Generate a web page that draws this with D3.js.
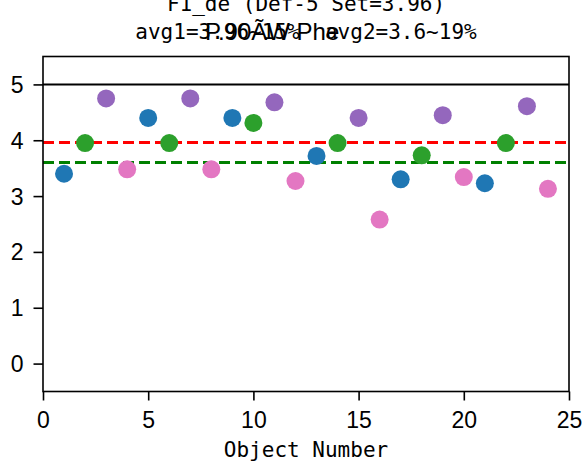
<!DOCTYPE html>
<html><head><meta charset="utf-8">
<script src="https://cdn.jsdelivr.net/npm/d3@7"></script>
<style>body{margin:0;background:#fff}</style>
</head><body>
<svg id="c" width="586" height="465"></svg>
<script>
const blueX = [1,5,9,13,17,21];
const blueY = [3.40,4.40,4.40,3.72,3.30,3.23];
const greenX = [2,6,10,14,18,22];
const greenY = [3.95,3.95,4.31,3.95,3.73,3.95];
const purpleX = [3,7,11,15,19,23];
const purpleY = [4.75,4.75,4.68,4.40,4.45,4.61];
const pinkX = [4,8,12,16,20,24];
const pinkY = [3.48,3.48,3.27,2.58,3.34,3.13];
const refLine = 5;
const avg1 = 3.96;
const avg2 = 3.6;
const xTicks = [0,5,10,15,20,25];
const yTicks = [0,1,2,3,4,5];
const title1 = "F1_de (Def-5 Set=3.96)";
const title2 = "avg1=3.96~15%  avg2=3.6~19%";
const overlay = "P.90ÃW Phe";
const xLabel = "Object Number";

const svg = d3.select("#c");
const L=43,R=569,T=56.5,B=391.5;
const x = d3.scaleLinear().domain([0,25]).range([L,R]);
const y = d3.scaleLinear().domain([-0.5,5.5]).range([B,T]);
const mono = "'DejaVu Sans Mono', monospace";
const sans = "'Liberation Sans', Arial, sans-serif";

const g = svg.append("g");
g.append("line").attr("x1",x(0)).attr("x2",x(25)).attr("y1",y(refLine)).attr("y2",y(refLine))
  .attr("stroke","#000").attr("stroke-width",2);
g.append("line").attr("x1",x(0)).attr("x2",x(25)).attr("y1",y(avg1)).attr("y2",y(avg1))
  .attr("stroke","#ff0000").attr("stroke-width",3).attr("stroke-dasharray","11,5");
g.append("line").attr("x1",x(0)).attr("x2",x(25)).attr("y1",y(avg2)).attr("y2",y(avg2))
  .attr("stroke","#008000").attr("stroke-width",3).attr("stroke-dasharray","11,5");

const series = [[blueX,blueY,"#1f77b4"],[greenX,greenY,"#2ca02c"],[purpleX,purpleY,"#9467bd"],[pinkX,pinkY,"#e377c2"]];
series.forEach(([xs,ys,c])=>{
  g.selectAll(null).data(xs.map((d,i)=>[d,ys[i]])).enter().append("circle")
    .attr("cx",d=>x(d[0])).attr("cy",d=>y(d[1])).attr("r",9).attr("fill",c);
});

svg.append("rect").attr("x",L).attr("y",T).attr("width",R-L).attr("height",B-T)
  .attr("fill","none").attr("stroke","#000").attr("stroke-width",1.6);

const xa = svg.append("g").attr("transform",`translate(0,${B})`)
  .call(d3.axisBottom(x).tickValues(xTicks).tickSize(9).tickPadding(11).tickFormat(d3.format("d")));
xa.select(".domain").remove();
xa.selectAll("line").attr("stroke-width",1.6);
xa.selectAll("text").attr("font-family",sans).attr("font-size",23).attr("fill","#000");

const ya = svg.append("g").attr("transform",`translate(${L},0)`)
  .call(d3.axisLeft(y).tickValues(yTicks).tickSize(9.5).tickPadding(10).tickFormat(d3.format("d")));
ya.select(".domain").remove();
ya.selectAll("line").attr("stroke-width",1.6);
ya.selectAll("text").attr("font-family",sans).attr("font-size",23).attr("fill","#000").attr("dy","0.35em");

svg.append("text").attr("x",(L+R)/2).attr("y",457).attr("text-anchor","middle")
  .attr("font-family",mono).attr("font-size",21).text(xLabel);
svg.append("text").attr("x",(L+R)/2).attr("y",11).attr("text-anchor","middle")
  .attr("font-family",mono).attr("font-size",21).text(title1);
svg.append("text").attr("x",(L+R)/2).attr("y",39).attr("text-anchor","middle")
  .attr("font-family",mono).attr("font-size",21).attr("xml:space","preserve").style("white-space","pre").text(title2);
svg.append("text").attr("x",205).attr("y",40).attr("text-anchor","start")
  .attr("font-family",sans).attr("font-size",24).text(overlay);
</script>
</body></html>
